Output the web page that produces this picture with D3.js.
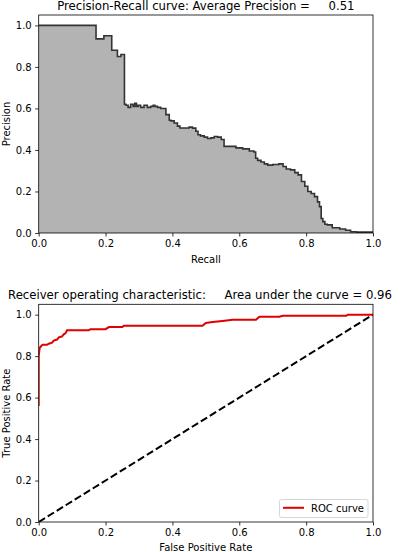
<!DOCTYPE html>
<html><head><meta charset="utf-8">
<script src="https://cdn.jsdelivr.net/npm/d3@7"></script>
<style>
html,body{margin:0;padding:0;background:#fff;}
text{font-family:"DejaVu Sans",sans-serif;white-space:pre;}
</style></head>
<body>
<svg id="c" width="403" height="552"></svg>
<script>
// ---- data ----
const prRecall = [0,0.171,0.172,0.218,0.219,0.235,0.236,0.256,0.257,0.265,0.27,0.28,0.285,0.29,0.295,0.30,0.31,0.32,0.33,0.34,0.345,0.35,0.36,0.37,0.38,0.381,0.39,0.391,0.40,0.41,0.42,0.425,0.445,0.455,0.465,0.475,0.478,0.49,0.50,0.51,0.52,0.53,0.54,0.552,0.557,0.58,0.60,0.62,0.64,0.648,0.65,0.66,0.67,0.68,0.69,0.71,0.727,0.735,0.746,0.76,0.772,0.78,0.792,0.80,0.81,0.82,0.83,0.838,0.842,0.848,0.852,0.86,0.866,0.89,0.911,0.925,0.941,0.96,1.0];
const prPrecision = [1.0,1.0,0.935,0.95,0.88,0.88,0.85,0.86,0.62,0.615,0.605,0.62,0.61,0.625,0.61,0.615,0.605,0.615,0.605,0.61,0.615,0.61,0.605,0.60,0.60,0.57,0.57,0.543,0.54,0.53,0.515,0.506,0.506,0.51,0.505,0.49,0.473,0.468,0.462,0.455,0.458,0.465,0.462,0.45,0.417,0.417,0.41,0.405,0.395,0.39,0.36,0.35,0.342,0.333,0.327,0.33,0.333,0.32,0.308,0.304,0.291,0.28,0.248,0.225,0.2,0.19,0.175,0.15,0.127,0.07,0.055,0.042,0.039,0.025,0.019,0.013,0.006,0.004,0.004];
const rocFpr = [0,0,0.003,0.008,0.012,0.025,0.03,0.04,0.045,0.055,0.06,0.07,0.075,0.08,0.085,0.15,0.155,0.2,0.21,0.25,0.255,0.49,0.5,0.52,0.55,0.58,0.65,0.66,0.72,0.73,0.92,0.925,1.0];
const rocTpr = [0.56,0.80,0.84,0.85,0.855,0.855,0.86,0.865,0.875,0.88,0.89,0.895,0.905,0.91,0.925,0.925,0.93,0.93,0.94,0.94,0.947,0.947,0.96,0.965,0.97,0.975,0.975,0.99,0.99,0.995,0.995,1.0,1.0];
const diagX = [0,1];
const diagY = [0,1];
const tickVals = [0,0.2,0.4,0.6,0.8,1.0];
const prTitle = "Precision-Recall curve: Average Precision =     0.51";
const rocTitle = "Receiver operating characteristic:     Area under the curve = 0.96";
const legendLabel = "ROC curve";

// ---- layout ----
const svg = d3.select("#c");
const L = 38.7, R = 373;
const panels = [
  {top:15, bottom:233},
  {top:304.3, bottom:522}
];
const fmt = d3.format(".1f");

function makePanel(p, idx, xlabel, ylabel, titleText, titleX, titleY, xlabelY){
  const x = d3.scaleLinear().domain([0,1]).range([L,R]);
  const y = d3.scaleLinear().domain([0,1.05]).range([p.bottom,p.top]);
  const g = svg.append("g");
  g.append("clipPath").attr("id","clip"+idx).append("rect")
    .attr("x",L).attr("y",p.top).attr("width",R-L).attr("height",p.bottom-p.top);
  const content = g.append("g").attr("clip-path","url(#clip"+idx+")");
  const xa = g.append("g").attr("transform",`translate(0,${p.bottom})`)
    .call(d3.axisBottom(x).tickValues(tickVals).tickFormat(fmt).tickSize(3.5).tickPadding(3.5));
  const ya = g.append("g").attr("transform",`translate(${L},0)`)
    .call(d3.axisLeft(y).tickValues(tickVals).tickFormat(fmt).tickSize(3.5).tickPadding(3.5));
  [xa,ya].forEach(a=>{
    a.select(".domain").remove();
    a.selectAll("line").attr("stroke","#000").attr("stroke-width",0.8);
    a.selectAll("text").attr("font-size",10).attr("fill","#000").attr("font-family","DejaVu Sans");
  });
  const frame = g.append("rect").attr("x",L).attr("y",p.top).attr("width",R-L).attr("height",p.bottom-p.top)
    .attr("fill","none").attr("stroke","#000").attr("stroke-width",0.8);
  g.append("text").attr("x",(L+R)/2).attr("y",xlabelY).attr("text-anchor","middle")
    .attr("font-size",10).text(xlabel);
  g.append("text").attr("transform",`translate(9.5,${(p.top+p.bottom)/2}) rotate(-90)`)
    .attr("text-anchor","middle").attr("font-size",10).text(ylabel);
  g.append("text").attr("x",titleX).attr("y",titleY).attr("text-anchor","middle")
    .attr("font-size",11.7).attr("xml:space","preserve").text(titleText);
  return {x,y,content,frame,g};
}

// ---- PR panel ----
const P1 = makePanel(panels[0],1,"Recall","Precision",prTitle,(L+R)/2,10,262.5);
const prData = prRecall.map((r,i)=>({r, p:prPrecision[i]}));
P1.content.append("path").datum(prData)
  .attr("fill","#b3b3b3")
  .attr("d", d3.area().curve(d3.curveStep).x(d=>P1.x(d.r)).y0(P1.y(0)).y1(d=>P1.y(d.p)));
P1.content.append("path").datum(prData)
  .attr("fill","none").attr("stroke","#333").attr("stroke-width",1.6).attr("stroke-linejoin","miter")
  .attr("d", d3.line().curve(d3.curveStep).x(d=>P1.x(d.r)).y(d=>P1.y(d.p)));
P1.frame.raise();

// ---- ROC panel ----
const P2 = makePanel(panels[1],2,"False Positive Rate","True Positive Rate",rocTitle,200,299,550.5);
P2.content.append("path").datum(diagX.map((v,i)=>({a:v,b:diagY[i]})))
  .attr("fill","none").attr("stroke","#000").attr("stroke-width",2).attr("stroke-dasharray","7.4,3.2")
  .attr("d", d3.line().x(d=>P2.x(d.a)).y(d=>P2.y(d.b)));
P2.content.append("path").datum(rocFpr.map((v,i)=>({a:v,b:rocTpr[i]})))
  .attr("fill","none").attr("stroke","#e00000").attr("stroke-width",2)
  .attr("d", d3.line().x(d=>P2.x(d.a)).y(d=>P2.y(d.b)));
P2.frame.raise();
// legend
const lg = P2.g.append("g");
lg.append("rect").attr("x",279.5).attr("y",499.5).attr("width",88.5).attr("height",18).attr("rx",2)
  .attr("fill","#fff").attr("fill-opacity",0.8).attr("stroke","#ccc").attr("stroke-width",0.8);
lg.append("line").attr("x1",283).attr("x2",304).attr("y1",507.8).attr("y2",507.8)
  .attr("stroke","#e00000").attr("stroke-width",2);
lg.append("text").attr("x",311).attr("y",511.5).attr("font-size",10).text(legendLabel);
</script>
</body></html>
